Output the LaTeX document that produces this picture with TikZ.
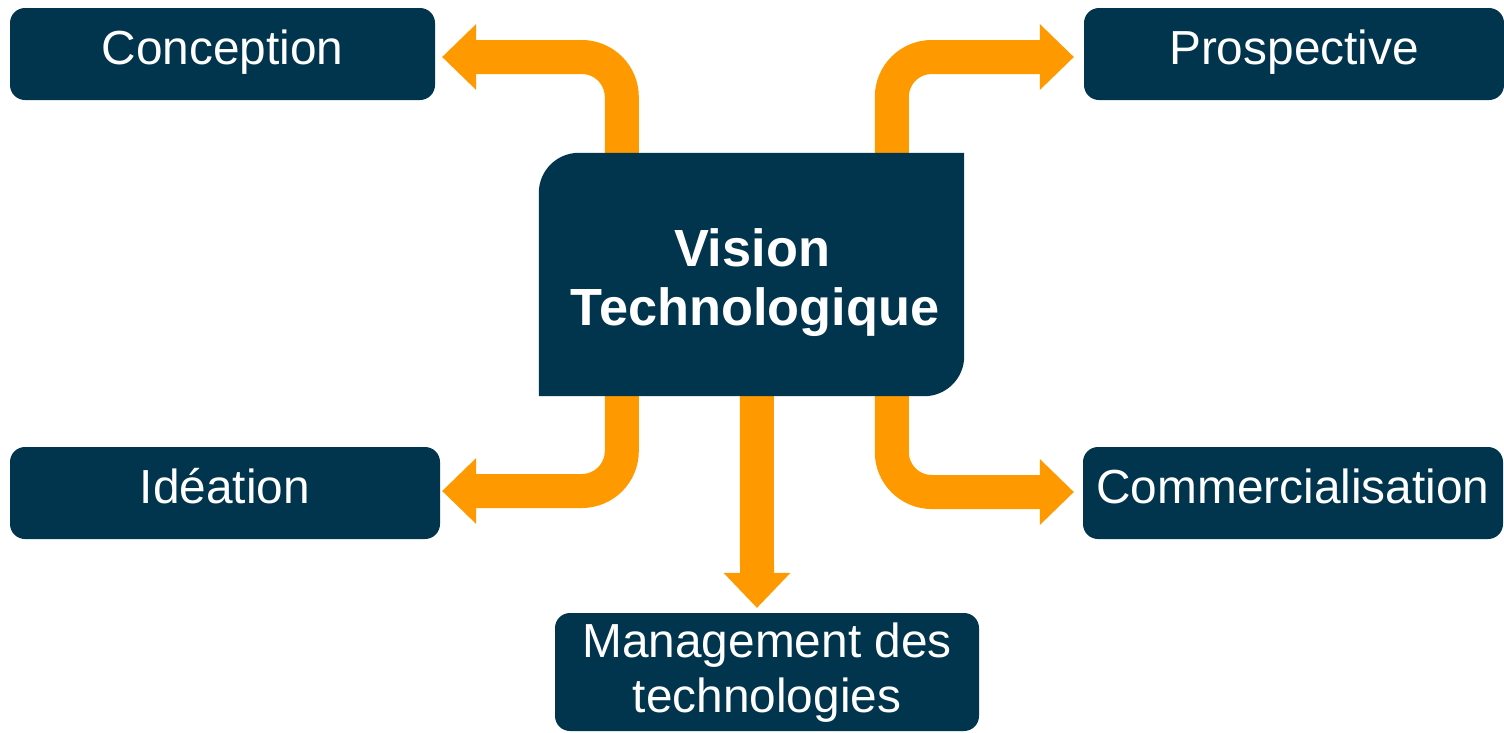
\documentclass[tikz,border=0pt]{standalone}
\usepackage{fontspec}
\setmainfont{Liberation Sans}
\usetikzlibrary{calc}
\definecolor{navy}{RGB}{0,53,77}
\definecolor{orng}{RGB}{255,153,0}
\begin{document}
\begin{tikzpicture}[x=1pt,y=-1pt,
  box/.style={rectangle, fill=navy, rounded corners=15pt, inner sep=0pt, text=white,
    font=\fontsize{47.8}{55}\selectfont, text height=30pt, text depth=10pt},
  txt/.style={text=white, inner sep=0pt, font=\fontsize{47.8}{55}\selectfont},
  stem/.style={draw=orng, line width=34pt, line cap=butt, rounded corners=40pt},
  head/.style={fill=orng}]
\useasboundingbox (0,0) rectangle (1504,732);
% boxes
\node[box, minimum width=425pt, minimum height=92pt] (conception) at (222.5,54) {Conception};
\node[box, minimum width=420pt, minimum height=92pt] (prospective) at (1294,54) {Prospective};
\node[box, minimum width=430pt, minimum height=92pt] (ideation) at (225,493) {Idéation};
\node[box, minimum width=420pt, minimum height=92pt] (commercial) at (1293,493) {Commercialisation};
\node[rectangle, fill=navy, rounded corners=15pt, minimum width=424pt, minimum height=118pt, inner sep=0pt] (mgmt) at (767,672) {};
\node[txt, anchor=base] (mgmt1) at (767,657) {Management des};
\node[txt, anchor=base] (mgmt2) at (767,712) {technologies};
% central node geometry
\node[rectangle, minimum width=425pt, minimum height=243pt, inner sep=0pt] (vision) at (751.5,274.5) {};
% arrow coordinates
\coordinate (tlS) at ($(vision.north west)+(83,5)$);
\coordinate (tlC) at ($(tlS|-conception.east)+(0,3)$);
\coordinate (tlB) at ($(conception.east)+(40,3)$);
\coordinate (trS) at ($(vision.north west)+(353,5)$);
\coordinate (trC) at ($(trS|-prospective.west)+(0,3)$);
\coordinate (trB) at ($(prospective.west)+(-43,3)$);
\coordinate (blS) at ($(vision.south west)+(83,-5)$);
\coordinate (blC) at ($(blS|-ideation.east)+(0,-2)$);
\coordinate (blB) at ($(ideation.east)+(35,-2)$);
\coordinate (brS) at ($(vision.south west)+(353,-5)$);
\coordinate (brC) at ($(brS|-commercial.west)+(0,-1)$);
\coordinate (brB) at ($(commercial.west)+(-42,-1)$);
\coordinate (dnS) at ($(vision.south west)+(218,-5)$);
\coordinate (dnB) at ($(mgmt.north)+(-10,-39)$);
% stems
\draw[stem] (tlS) -- (tlC) -- (tlB);
\draw[stem] (trS) -- (trC) -- (trB);
\draw[stem] (blS) -- (blC) -- (blB);
\draw[stem] (brS) -- (brC) -- (brB);
\draw[stem] (dnS) -- (dnB);
% heads
\fill[head] ($(tlB)+(1,-33)$) -- ($(tlB)+(-33,0)$) -- ($(tlB)+(1,33)$) -- cycle;
\fill[head] ($(trB)+(-1,-33)$) -- ($(trB)+(33,0)$) -- ($(trB)+(-1,33)$) -- cycle;
\fill[head] ($(blB)+(1,-33)$) -- ($(blB)+(-33,0)$) -- ($(blB)+(1,33)$) -- cycle;
\fill[head] ($(brB)+(-1,-33)$) -- ($(brB)+(33,0)$) -- ($(brB)+(-1,33)$) -- cycle;
\fill[head] ($(dnB)+(-33.5,-1)$) -- ($(dnB)+(0,34)$) -- ($(dnB)+(33.5,-1)$) -- cycle;
% central shape
\fill[navy] (vision.south west) -- ($(vision.north west)+(0,40)$)
  arc[start angle=180, end angle=270, radius=40] -- (vision.north east)
  -- ($(vision.south east)+(0,-40)$) arc[start angle=0, end angle=90, radius=40] -- cycle;
\node[txt, anchor=base, font=\bfseries\fontsize{52.3}{60}\selectfont] (vis1) at (752,266) {Vision};
\node[txt, anchor=base, font=\bfseries\fontsize{52.3}{60}\selectfont] (vis2) at (755,325) {Technologique};
\end{tikzpicture}
\end{document}
